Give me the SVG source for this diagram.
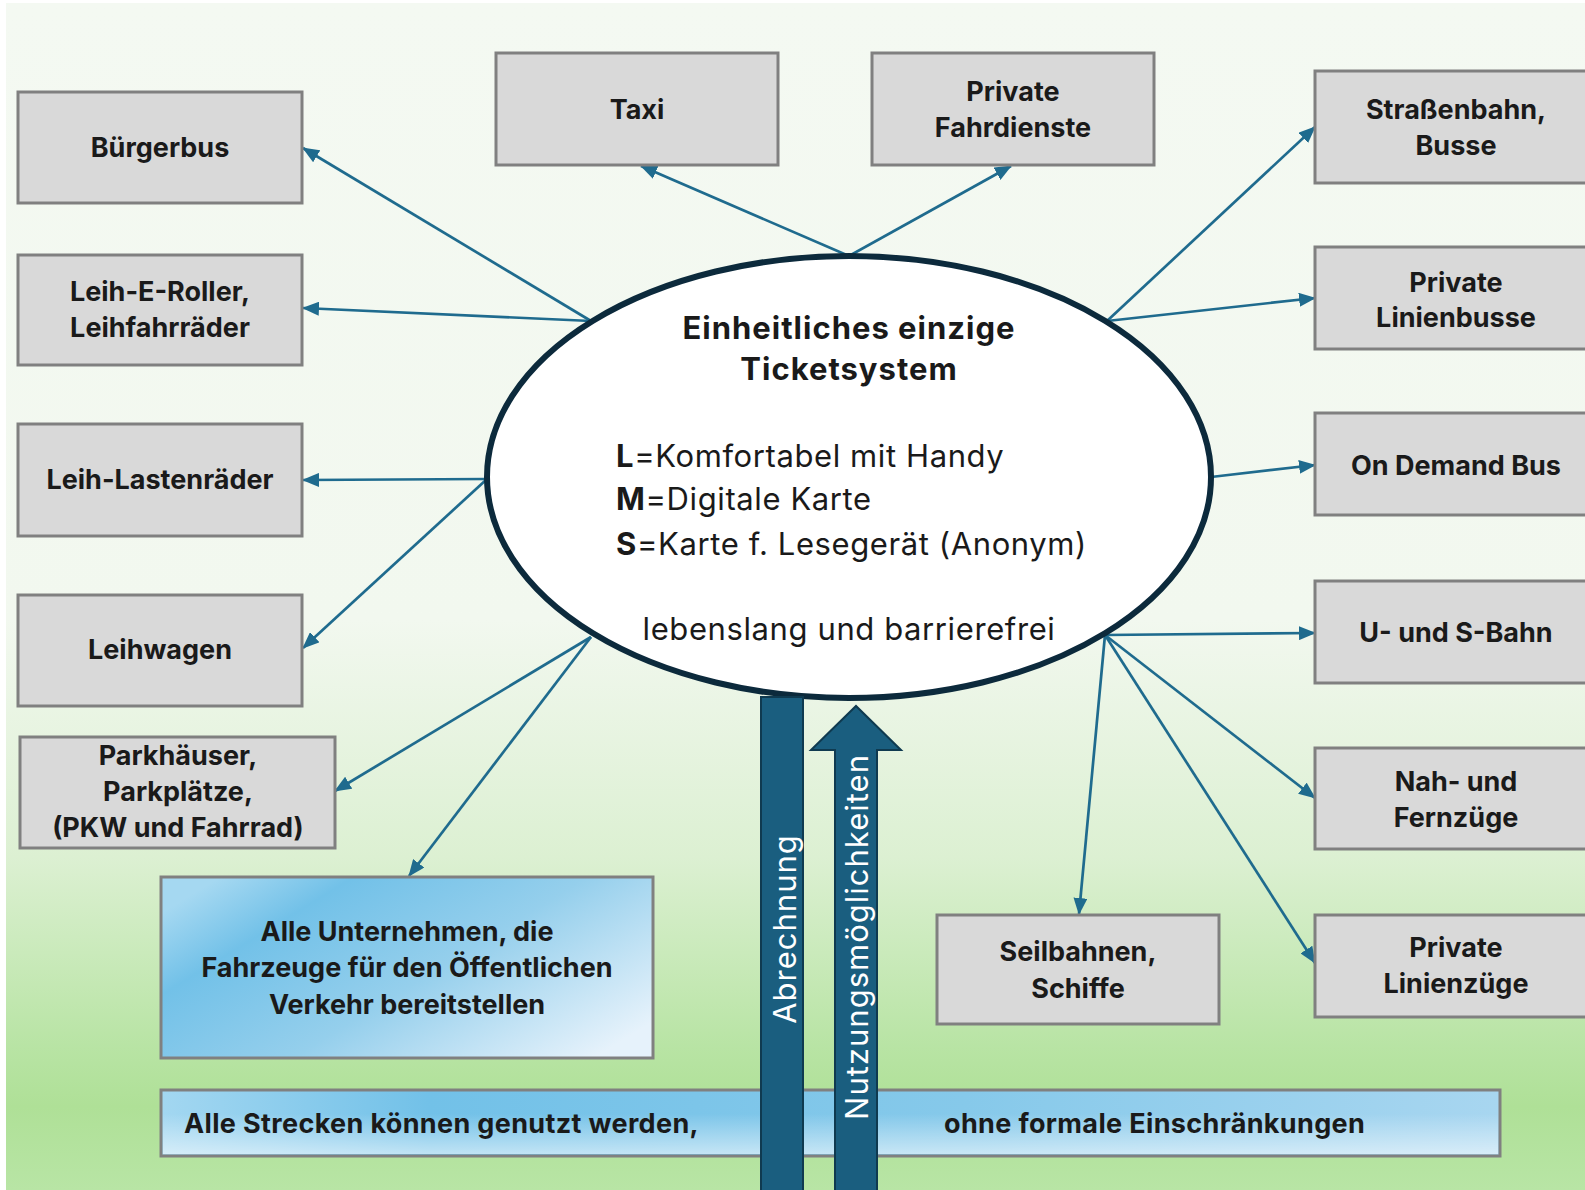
<svg xmlns="http://www.w3.org/2000/svg" width="1585" height="1190" viewBox="0 0 1585 1190">
  <defs>
    <linearGradient id="bg" x1="0" y1="0" x2="0" y2="1">
      <stop offset="0" stop-color="#f4f9f2"/>
      <stop offset="0.52" stop-color="#f2f8ef"/>
      <stop offset="0.72" stop-color="#dcf0d2"/>
      <stop offset="0.88" stop-color="#b8e4a4"/>
      <stop offset="0.93" stop-color="#afe097"/>
      <stop offset="1" stop-color="#b8e5a5"/>
    </linearGradient>
    <linearGradient id="blueBox" x1="0" y1="0.2" x2="1" y2="0.8">
      <stop offset="0" stop-color="#a5d8f1"/>
      <stop offset="0.2" stop-color="#72c1e8"/>
      <stop offset="0.55" stop-color="#95cfec"/>
      <stop offset="1" stop-color="#e6f2fb"/>
    </linearGradient>
    <linearGradient id="blueBar" x1="0" y1="0" x2="1" y2="0">
      <stop offset="0" stop-color="#a3d7f1"/>
      <stop offset="0.2" stop-color="#72c1e8"/>
      <stop offset="0.6" stop-color="#86c9ea"/>
      <stop offset="1" stop-color="#a8d6f0"/>
    </linearGradient>
    <linearGradient id="barSheen" x1="0" y1="0" x2="0" y2="1">
      <stop offset="0" stop-color="#ffffff" stop-opacity="0"/>
      <stop offset="0.35" stop-color="#ffffff" stop-opacity="0"/>
      <stop offset="1" stop-color="#ffffff" stop-opacity="0.55"/>
    </linearGradient>
    <marker id="arr" markerUnits="userSpaceOnUse" markerWidth="17" markerHeight="14" viewBox="0 0 17 14" refX="16" refY="7" orient="auto">
      <path d="M0,0 L17,7 L0,14 Z" fill="#1f6b8e"/>
    </marker>
    <style>
      .box { fill: #d9d9d9; stroke: #808080; stroke-width: 3; }
      .lbl { font-family: Inter, "Liberation Sans", sans-serif; font-weight: 700; font-size: 27px; fill: #1a1a1a; text-anchor: middle; }
      .lbl.start { text-anchor: start; letter-spacing: 0.35px; }
      .big { font-family: Inter, "Liberation Sans", sans-serif; font-size: 31px; letter-spacing: 0.6px; fill: #1a1a1a; }
      .big.mid { text-anchor: middle; }
      .big.head { font-weight: 700; letter-spacing: 1px; }
      .conn line { stroke: #1f6b8e; stroke-width: 2.7; marker-end: url(#arr); }
      .vtxt { font-family: Inter, "Liberation Sans", sans-serif; font-size: 31px; letter-spacing: 1px; fill: #ffffff; text-anchor: middle; }
    </style>
  </defs>

  <!-- page background -->
  <rect x="0" y="0" width="1585" height="1190" fill="#ffffff"/>
  <rect x="6" y="3" width="1579" height="1187" fill="url(#bg)"/>

  <!-- connectors from the ticket system -->
  <g id="connectors" class="conn">
    <line x1="591" y1="321" x2="303" y2="148"/>
    <line x1="591" y1="321" x2="303" y2="308"/>
    <line x1="849" y1="256" x2="641" y2="166"/>
    <line x1="849" y1="256" x2="1011" y2="166"/>
    <line x1="1107" y1="321" x2="1315" y2="127"/>
    <line x1="1107" y1="321" x2="1315" y2="298"/>
    <line x1="1211" y1="477" x2="1315" y2="465"/>
    <line x1="487" y1="479" x2="303" y2="480"/>
    <line x1="487" y1="479" x2="303" y2="648"/>
    <line x1="591" y1="637" x2="335" y2="791"/>
    <line x1="591" y1="637" x2="409" y2="876"/>
    <line x1="1105" y1="635" x2="1315" y2="633"/>
    <line x1="1105" y1="635" x2="1315" y2="798"/>
    <line x1="1105" y1="635" x2="1315" y2="963"/>
    <line x1="1105" y1="635" x2="1079" y2="914"/>
  </g>

  <!-- central ticket system -->
  <g id="ticketsystem">
    <ellipse cx="849" cy="477" rx="362" ry="221" fill="#ffffff" stroke="#0c2a3c" stroke-width="6"/>
    <text class="big mid head" x="849" y="339">Einheitliches einzige</text>
    <text class="big mid head" x="849" y="380">Ticketsystem</text>
    <text class="big" x="616" y="467"><tspan font-weight="700">L</tspan>=Komfortabel mit Handy</text>
    <text class="big" x="616" y="510"><tspan font-weight="700">M</tspan>=Digitale Karte</text>
    <text class="big" x="616" y="555"><tspan font-weight="700">S</tspan>=Karte f. Lesegerät (Anonym)</text>
    <text class="big mid" x="849" y="640">lebenslang und barrierefrei</text>
  </g>

  <!-- left column -->
  <g id="buergerbus">
    <rect class="box" x="18" y="92" width="284" height="111"/>
    <text class="lbl" x="160" y="157">Bürgerbus</text>
  </g>
  <g id="leih-e-roller">
    <rect class="box" x="18" y="255" width="284" height="110"/>
    <text class="lbl" x="160" y="301">Leih-E-Roller,</text>
    <text class="lbl" x="160" y="337">Leihfahrräder</text>
  </g>
  <g id="leih-lastenraeder">
    <rect class="box" x="18" y="424" width="284" height="112"/>
    <text class="lbl" x="160" y="489">Leih-Lastenräder</text>
  </g>
  <g id="leihwagen">
    <rect class="box" x="18" y="595" width="284" height="111"/>
    <text class="lbl" x="160" y="659">Leihwagen</text>
  </g>
  <g id="parkhaeuser">
    <rect class="box" x="20" y="737" width="315" height="111"/>
    <text class="lbl" x="178" y="765">Parkhäuser,</text>
    <text class="lbl" x="178" y="801">Parkplätze,</text>
    <text class="lbl" x="178" y="837">(PKW und Fahrrad)</text>
  </g>

  <!-- top row -->
  <g id="taxi">
    <rect class="box" x="496" y="53" width="282" height="112"/>
    <text class="lbl" x="637" y="119">Taxi</text>
  </g>
  <g id="private-fahrdienste">
    <rect class="box" x="872" y="53" width="282" height="112"/>
    <text class="lbl" x="1013" y="101">Private</text>
    <text class="lbl" x="1013" y="137">Fahrdienste</text>
  </g>

  <!-- right column -->
  <g id="strassenbahn">
    <rect class="box" x="1315" y="71" width="282" height="112"/>
    <text class="lbl" x="1456" y="119">Straßenbahn,</text>
    <text class="lbl" x="1456" y="155">Busse</text>
  </g>
  <g id="private-linienbusse">
    <rect class="box" x="1315" y="247" width="282" height="102"/>
    <text class="lbl" x="1456" y="292">Private</text>
    <text class="lbl" x="1456" y="327">Linienbusse</text>
  </g>
  <g id="on-demand-bus">
    <rect class="box" x="1315" y="413" width="282" height="102"/>
    <text class="lbl" x="1456" y="475">On Demand Bus</text>
  </g>
  <g id="u-s-bahn">
    <rect class="box" x="1315" y="581" width="282" height="102"/>
    <text class="lbl" x="1456" y="642">U- und S-Bahn</text>
  </g>
  <g id="nah-fernzuege">
    <rect class="box" x="1315" y="748" width="282" height="101"/>
    <text class="lbl" x="1456" y="791">Nah- und</text>
    <text class="lbl" x="1456" y="827">Fernzüge</text>
  </g>
  <g id="private-linienzuege">
    <rect class="box" x="1315" y="915" width="282" height="102"/>
    <text class="lbl" x="1456" y="957">Private</text>
    <text class="lbl" x="1456" y="993">Linienzüge</text>
  </g>
  <g id="seilbahnen">
    <rect class="box" x="937" y="915" width="282" height="109"/>
    <text class="lbl" x="1078" y="961">Seilbahnen,</text>
    <text class="lbl" x="1078" y="998">Schiffe</text>
  </g>

  <!-- operators -->
  <g id="unternehmen">
    <rect x="161" y="877" width="492" height="181" fill="url(#blueBox)" stroke="#808080" stroke-width="3"/>
    <text class="lbl" x="407" y="941">Alle Unternehmen, die</text>
    <text class="lbl" x="407" y="977">Fahrzeuge für den Öffentlichen</text>
    <text class="lbl" x="407" y="1014">Verkehr bereitstellen</text>
  </g>

  <!-- route bar -->
  <g id="strecken">
    <rect x="161" y="1090" width="1339" height="66" fill="url(#blueBar)" stroke="#808080" stroke-width="3"/>
    <rect x="163" y="1092" width="1335" height="62" fill="url(#barSheen)"/>
    <text class="lbl start" x="184" y="1133">Alle Strecken können genutzt werden,</text>
    <text class="lbl start" x="944" y="1133">ohne formale Einschränkungen</text>
  </g>

  <!-- billing bar -->
  <g id="abrechnung">
    <rect x="761" y="697" width="42" height="496" fill="#1a5e7f" stroke="#0f3a50" stroke-width="2"/>
    <text class="vtxt" x="796" y="929" transform="rotate(-90 796 929)">Abrechnung</text>
  </g>

  <!-- usage arrow -->
  <g id="nutzung">
    <path d="M835,1193 L835,750 L811,750 L856,706 L901,750 L877,750 L877,1193 Z" fill="#1a5e7f" stroke="#0f3a50" stroke-width="2"/>
    <text class="vtxt" x="868" y="937" transform="rotate(-90 868 937)">Nutzungsmöglichkeiten</text>
  </g>
</svg>
